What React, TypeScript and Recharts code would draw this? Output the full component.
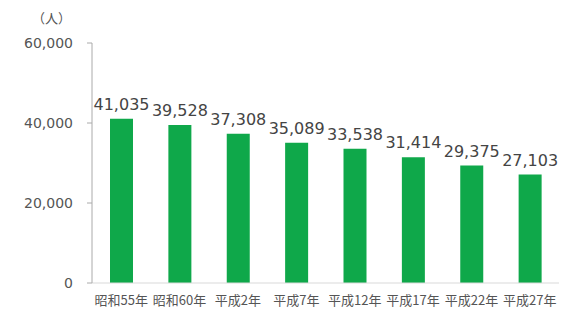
import React from "react";
import { BarChart, Bar, XAxis, YAxis, LabelList } from "recharts";

const categories = ["昭和55年", "昭和60年", "平成2年", "平成7年", "平成12年", "平成17年", "平成22年", "平成27年"];
const population = [41035, 39528, 37308, 35089, 33538, 31414, 29375, 27103];
const yTicks = [0, 20000, 40000, 60000];

const data = categories.map((c, i) => ({ name: c, value: population[i] }));

const fmt = (v: number) => v.toLocaleString("en-US");
const FONT = "'Noto Sans CJK JP', 'Noto Sans', sans-serif";
const NUMFONT = "'DejaVu Sans', sans-serif";

export default function App() {
  return (
    <div style={{ position: "absolute", left: 0, top: 0, width: 561, height: 320, background: "#fff" }}>
      <div style={{ position: "absolute", left: 32, top: 8, fontFamily: FONT, fontSize: 13, color: "#555" }}>（人）</div>
      <BarChart width={561} height={320} data={data} margin={{ top: 43, right: 2, bottom: 7, left: 12 }}>
        <XAxis
          dataKey="name"
          tickLine={false}
          axisLine={{ stroke: "#d9d9d9" }}
          tick={{ fontSize: 13, fill: "#555", fontFamily: FONT }}
          tickMargin={7}
          interval={0}
          height={30}
        />
        <YAxis
          domain={[0, 60000]}
          ticks={yTicks}
          tickFormatter={fmt}
          width={80}
          axisLine={{ stroke: "#aaa" }}
          tickLine={{ stroke: "#aaa" }}
          tickSize={5}
          tickMargin={14}
          tick={{ fontSize: 14, fill: "#555", fontFamily: NUMFONT }}
        />
        <Bar dataKey="value" fill="#0fa84a" barSize={23} isAnimationActive={false}>
          <LabelList dataKey="value" position="top" offset={9} formatter={(v: number) => fmt(v)} style={{ fontSize: 16, fill: "#444", fontFamily: NUMFONT }} />
        </Bar>
      </BarChart>
    </div>
  );
}
